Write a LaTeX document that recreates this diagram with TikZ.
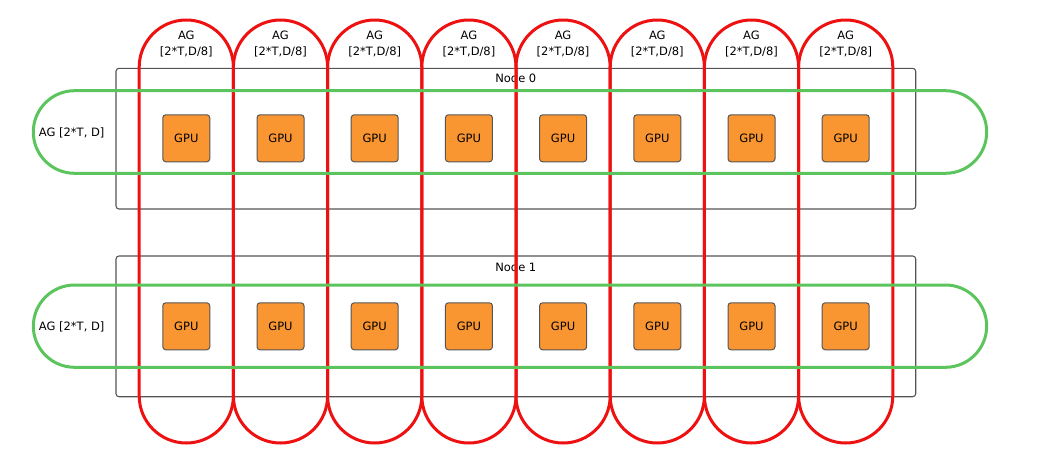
\documentclass[tikz,border=0pt]{standalone}
\usepackage{fontspec}
\setmainfont{DejaVu Sans}
\definecolor{agred}{HTML}{EE1111}
\definecolor{aggreen}{HTML}{5CC45C}
\definecolor{gpuorange}{HTML}{FA9632}
\definecolor{boxgray}{HTML}{555555}
\begin{document}
\begin{tikzpicture}[x=1pt,y=-1pt,
  txt/.style={font=\fontsize{11.5}{16.5}\selectfont, text=black, inner sep=0pt, align=center},
  hostbox/.style={draw=boxgray, line width=1.1pt, rounded corners=3pt},
  gpubox/.style={draw=boxgray, fill=gpuorange, line width=1pt, rounded corners=3pt,
    minimum width=47pt, minimum height=47pt, inner sep=0pt, font=\fontsize{11.5}{14}\selectfont},
  redloop/.style={draw=agred, line width=3pt, rounded corners=47.1pt},
  greenloop/.style={draw=aggreen, line width=3pt, rounded corners=41.3pt}]
\useasboundingbox (0,0) rectangle (1042,466);
% host boxes
\draw[hostbox] (116,68.3) rectangle (915.7,209) coordinate (n0br);
\node[txt] (n0lab) at (515.8,78.3) {Node 0};
\draw[hostbox] (116,256) rectangle (915.7,396.7) coordinate (n1br);
\node[txt] (n1lab) at (515.8,267.5) {Node 1};
% red columns
\foreach \i in {0,...,7} {
  \pgfmathsetmacro{\xl}{139.2+94.2*\i}
  \pgfmathsetmacro{\xr}{\xl+94.2}
  \pgfmathsetmacro{\xc}{\xl+47.1}
  \draw[redloop] (\xl,20) rectangle (\xr,443);
  \node[txt] (col\i) at (\xc,43.8) {AG\\{[}2*T,D/8{]}};
}
% green rows
\draw[greenloop] (33.3,90.7) rectangle (986.7,173.3);
\draw[greenloop] (33.3,285) rectangle (986.7,367.3);
\node[txt] (row0) at (71.7,133) {AG [2*T, D]};
\node[txt] (row1) at (71.7,327) {AG [2*T, D]};
% GPUs
\foreach \i in {0,...,7} {
  \pgfmathsetmacro{\xc}{186.3+94.2*\i}
  \node[gpubox] (gpuA\i) at (\xc,138.3) {GPU};
  \node[gpubox] (gpuB\i) at (\xc,326.3) {GPU};
}
\end{tikzpicture}
\end{document}
